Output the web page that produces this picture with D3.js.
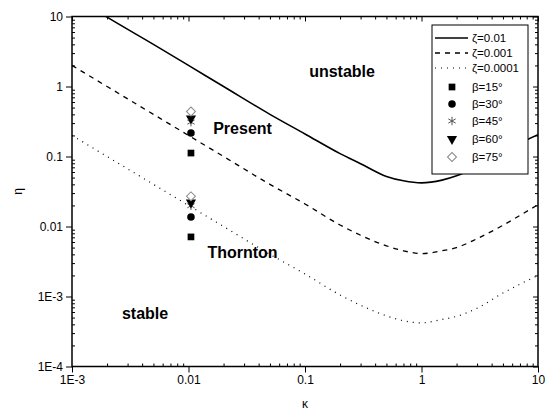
<!DOCTYPE html>
<meta charset="utf-8">
<style>

body { margin: 0; background: #fff; }

text {
  font-family: "Liberation Sans", Arial, sans-serif;
  fill: #000;
}

.tick text { font-size: 12px; }

.region {
  font-size: 16px;
  font-weight: bold;
  text-anchor: middle;
}

.curve { fill: none; stroke: #000; }

</style>
<svg width="548" height="416"></svg>
<script src="https://d3js.org/d3.v7.min.js"></script>
<script>

// stability boundaries, eta vs kappa, one list per zeta
var kappa   = [0.001, 0.002, 0.005, 0.01, 0.02, 0.05, 0.1, 0.2, 0.3, 0.5, 0.7, 1, 1.5, 2, 3, 5, 7, 10];
var eta1e2  = [20, 9.8, 4, 2, 1, 0.4, 0.21, 0.11, 0.079, 0.052, 0.045, 0.042, 0.046, 0.053, 0.072, 0.114, 0.155, 0.205];
var eta1e3  = [2, 1, 0.4, 0.2, 0.1, 0.04, 0.021, 0.0105, 0.0075, 0.0053, 0.0045, 0.0041, 0.0045, 0.005, 0.0067, 0.0104, 0.0144, 0.0205];
var eta1e4  = [0.2, 0.1, 0.04, 0.02, 0.01, 0.004, 0.0021, 0.00105, 0.00075, 0.00053, 0.00045, 0.00042, 0.00047, 0.00052, 0.00068, 0.00112, 0.0015, 0.002];

var curveLabels = ["\u03b6=0.01", "\u03b6=0.001", "\u03b6=0.0001"];

// measured points at kappa = 0.01
var pointKappa = 0.0105;
var betaLabels = ["\u03b2=15\u00b0", "\u03b2=30\u00b0", "\u03b2=45\u00b0", "\u03b2=60\u00b0", "\u03b2=75\u00b0"];
var etaPresent  = [0.112, 0.217, 0.31, 0.35, 0.44];
var etaThornton = [0.0071, 0.0137, 0.0198, 0.022, 0.027];

var xTicks = [0.001, 0.01, 0.1, 1, 10];
var xTickLabels = ["1E-3", "0.01", "0.1", "1", "10"];
var yTicks = [1e-4, 1e-3, 0.01, 0.1, 1, 10];
var yTickLabels = ["1E-4", "1E-3", "0.01", "0.1", "1", "10"];

var svg = d3.select("svg"),
    margin = {top: 16.5, right: 10, bottom: 49.5, left: 72},
    width = +svg.attr("width") - margin.left - margin.right,
    height = +svg.attr("height") - margin.top - margin.bottom;

var g = svg.append("g")
    .attr("transform", "translate(" + margin.left + "," + margin.top + ")");

var x = d3.scaleLog().domain([0.001, 10]).range([0, width]);
var y = d3.scaleLog().domain([1e-4, 10]).range([height, 0]);

function minors(lo, hi) {
  var out = [];
  for (var e = lo; e < hi; e++)
    for (var m = 2; m < 10; m++) out.push(m * Math.pow(10, e));
  return out;
}

// minor ticks point inward, major ticks outward
g.append("g")
    .attr("transform", "translate(0," + height + ")")
    .call(d3.axisBottom(x).tickValues(xTicks).tickSize(6).tickPadding(3)
      .tickFormat(function(d, i) { return xTickLabels[i]; }));
g.append("g")
    .attr("transform", "translate(0," + height + ")")
    .call(d3.axisBottom(x).tickValues(minors(-3, 1)).tickSize(-3).tickFormat(""));
g.append("g")
    .call(d3.axisTop(x).tickValues(minors(-3, 1)).tickSize(-3).tickFormat(""));
g.append("g")
    .call(d3.axisTop(x).tickValues(xTicks).tickSize(-5).tickFormat(""));

g.append("g")
    .call(d3.axisLeft(y).tickValues(yTicks).tickSize(6).tickPadding(3)
      .tickFormat(function(d, i) { return yTickLabels[i]; }));
g.append("g")
    .call(d3.axisLeft(y).tickValues(minors(-4, 1)).tickSize(-3).tickFormat(""));
g.append("g")
    .attr("transform", "translate(" + width + ",0)")
    .call(d3.axisRight(y).tickValues(minors(-4, 1)).tickSize(-3).tickFormat(""));
g.append("g")
    .attr("transform", "translate(" + width + ",0)")
    .call(d3.axisRight(y).tickValues(yTicks).tickSize(-5).tickFormat(""));

g.selectAll(".domain").remove();
g.selectAll(".tick line").attr("stroke", "#000").attr("stroke-width", 1);

g.append("rect")
    .attr("width", width)
    .attr("height", height)
    .attr("fill", "none")
    .attr("stroke", "#000")
    .attr("stroke-width", 1.5);

// curves
g.append("clipPath").attr("id", "plot-clip")
  .append("rect").attr("width", width).attr("height", height);

var line = d3.line()
    .curve(d3.curveMonotoneX)
    .x(function(d) { return x(d[0]); })
    .y(function(d) { return y(d[1]); });

var curves = [
  {values: eta1e2, width: 1.6, dash: null},
  {values: eta1e3, width: 1.3, dash: "5,5"},
  {values: eta1e4, width: 1.2, dash: "1,5"}
];

g.append("g").attr("clip-path", "url(#plot-clip)")
  .selectAll("path")
  .data(curves)
  .enter().append("path")
    .attr("class", "curve")
    .attr("d", function(c) { return line(d3.zip(kappa, c.values)); })
    .attr("stroke-width", function(c) { return c.width; })
    .attr("stroke-dasharray", function(c) { return c.dash; });

// markers
var shapes = [
  {type: d3.symbolSquare, size: 45, fill: "#000", stroke: "none", rotate: 0},
  {type: d3.symbolCircle, size: 45, fill: "#000", stroke: "none", rotate: 0},
  {type: d3.symbolAsterisk, size: 50, fill: "none", stroke: "#555", rotate: 0},
  {type: d3.symbolTriangle, size: 45, fill: "#000", stroke: "none", rotate: 180},
  {type: d3.symbolSquare, size: 40, fill: "#fff", stroke: "#888", rotate: 45}
];

function drawMarker(sel, s) {
  sel.append("path")
      .attr("d", d3.symbol().type(s.type).size(s.size))
      .attr("fill", s.fill)
      .attr("stroke", s.stroke)
      .attr("stroke-width", 1);
}

[etaPresent, etaThornton].forEach(function(vals) {
  vals.forEach(function(v, i) {
    var m = g.append("g")
        .attr("transform", "translate(" + x(pointKappa) + "," + y(v) + ") rotate(" + shapes[i].rotate + ")");
    drawMarker(m, shapes[i]);
  });
});

// region labels
var regions = [
  {text: "unstable", k: 0.208, e: 1.66},
  {text: "Present", k: 0.0291, e: 0.255},
  {text: "Thornton", k: 0.0291, e: 0.0042},
  {text: "stable", k: 0.00424, e: 0.00058}
];

g.selectAll(".region")
  .data(regions)
  .enter().append("text")
    .attr("class", "region")
    .attr("x", function(d) { return x(d.k); })
    .attr("y", function(d) { return y(d.e); })
    .attr("dy", "0.35em")
    .text(function(d) { return d.text; });

// axis titles
svg.append("text")
    .attr("x", margin.left + width / 2)
    .attr("y", 408)
    .attr("text-anchor", "middle")
    .style("font-size", "12px")
    .text("\u03ba");

svg.append("text")
    .attr("transform", "translate(22," + (margin.top + height / 2) + ") rotate(-90)")
    .attr("text-anchor", "middle")
    .style("font-size", "12px")
    .text("\u03b7");

// legend
var legend = svg.append("g").attr("transform", "translate(432,25)");

legend.append("rect")
    .attr("width", 96)
    .attr("height", 149)
    .attr("fill", "#fff")
    .attr("stroke", "#000")
    .attr("stroke-width", 1);

var rowY = [13, 28, 43, 62, 79, 96, 114, 132];

curves.forEach(function(c, i) {
  var r = legend.append("g").attr("transform", "translate(0," + rowY[i] + ")");
  r.append("line")
      .attr("x1", 3).attr("x2", 36)
      .attr("stroke", "#000")
      .attr("stroke-width", c.width)
      .attr("stroke-dasharray", c.dash);
  r.append("text")
      .attr("x", 40)
      .attr("dy", "0.35em")
      .style("font-size", "11.5px")
      .text(curveLabels[i]);
});

shapes.forEach(function(s, i) {
  var r = legend.append("g").attr("transform", "translate(0," + rowY[i + 3] + ")");
  drawMarker(r.append("g").attr("transform", "translate(20,0) rotate(" + s.rotate + ")"), s);
  r.append("text")
      .attr("x", 40)
      .attr("dy", "0.35em")
      .style("font-size", "11.5px")
      .text(betaLabels[i]);
});

</script>
